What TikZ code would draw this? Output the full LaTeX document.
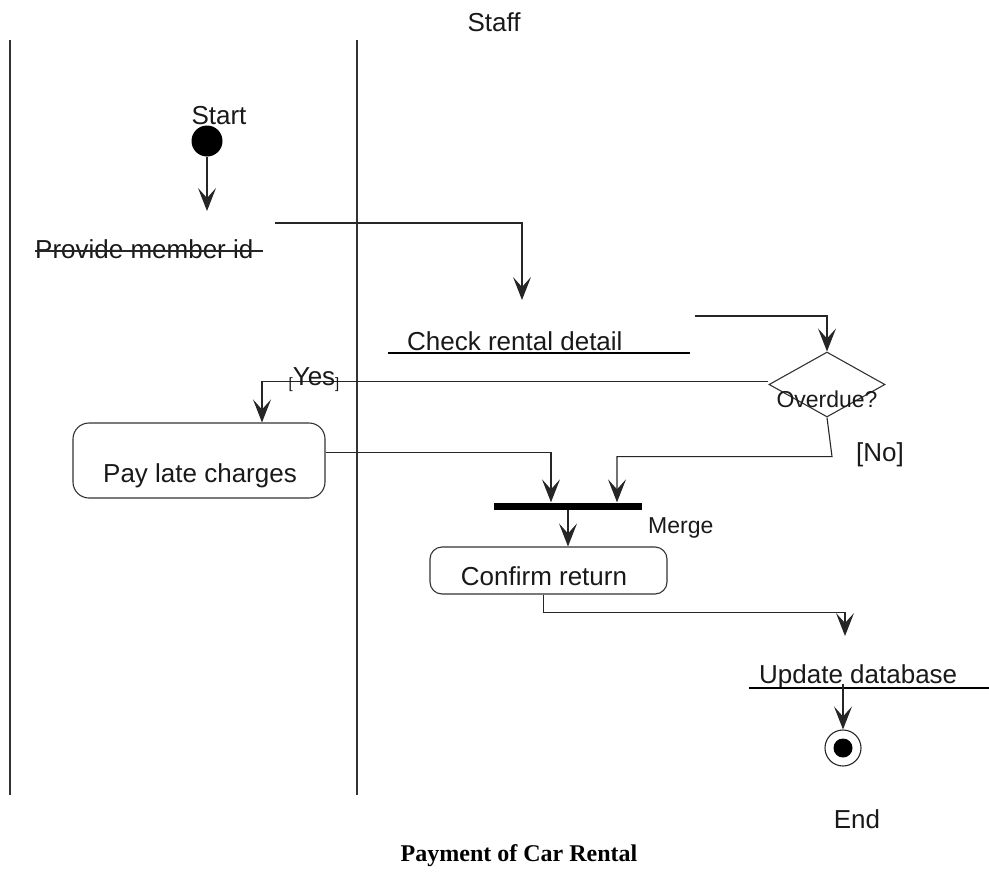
\documentclass[tikz,border=0pt]{standalone}
\usepackage{fontspec}
\setmainfont{Liberation Sans}
\newfontfamily\titlefont{Liberation Serif}
\usetikzlibrary{arrows.meta,shapes.geometric}

\begin{document}
\begin{tikzpicture}[x=1pt,y=-1pt,
  flow/.style={draw=black!85, line width=1.1pt,
    -{Stealth[length=23pt,width=18pt,inset=10pt]}},
  lbl/.style={font=\fontsize{26}{31}\selectfont, inner sep=0pt, text=black!90},
  small/.style={font=\fontsize{23}{27}\selectfont, inner sep=0pt, text=black!90},
  lane/.style={draw=black!80, line width=1.2pt},
  barline/.style={draw=black, line width=1.8pt},
  act/.style={draw=black!80, line width=1.1pt, rounded corners=16pt, inner sep=0pt},
]
\useasboundingbox (0,0) rectangle (989,873);

% swimlane header and separators
\node[lbl] (staff) at (494,22) {Staff};
\draw[lane] (10,40) -- (10,795);
\draw[lane] (357,40) -- (357,795);

% initial node
\node[circle, fill=black, minimum size=31pt, inner sep=0pt] (start) at (207,141) {};
\node[lbl, anchor=base] (startlbl) at (219,124) {Start};
\coordinate (startend) at (207,211);
\draw[flow] (start.south) -- (startend);

% activity: provide member id
\node[lbl, anchor=base west] (provide) at (35,258) {Provide member id};
\draw[draw=black!85, line width=1.2pt] (35,251) -- (263,251);

% activity: check rental detail
\coordinate (provout) at (275,223);
\coordinate (checkin) at (522,300);
\draw[flow] (provout) -| (checkin);
\node[lbl, anchor=base west] (check) at (407,350) {Check rental detail};
\draw[barline] (388,353) -- (690,353);

% decision
\node[diamond, draw=black!80, line width=1.1pt, minimum width=116pt,
      minimum height=65pt, inner sep=0pt] (dec) at (827,384.5) {};
\node[small, anchor=base] (overdue) at (827,407) {Overdue?};
\coordinate (checkout) at (695,316);
\draw[flow] (checkout) -| (dec.north);

% yes branch
\node[act, minimum width=252pt, minimum height=75pt] (pay) at (199,460.5) {};
\node[lbl, anchor=base] (paytxt) at (200,482) {Pay late charges};
\draw[flow] ([yshift=3pt]dec.west) -| ([xshift=63pt]pay.north);
\node[lbl, anchor=base] (yes) at (314,385)
  {\raisebox{-3pt}{\fontsize{15}{18}\selectfont[}Yes\raisebox{-3pt}{\fontsize{15}{18}\selectfont]}};

% merge bar
\node[rectangle, fill=black, minimum width=148pt, minimum height=7pt, inner sep=0pt] (merge) at (568,506) {};
\node[small, anchor=base west] (mergelbl) at (648,533) {Merge};
\draw[flow] ([yshift=8pt]pay.east) -| ([xshift=-17pt]merge.north);

% no branch
\draw[flow] (dec.south) -- ++(5,39) -| ([xshift=49pt]merge.north);
\node[lbl] (no) at (880,455) {[No]};

% activity: confirm return
\node[act, rounded corners=12pt, minimum width=237pt, minimum height=47pt] (confirm) at (548.5,570.5) {};
\node[lbl, anchor=base] (conftxt) at (544,585) {Confirm return};
\draw[flow] (merge.south) -- ([xshift=19.5pt]confirm.north);

% activity: update database
\coordinate (updin) at (845,636);
\draw[flow] ([xshift=-5pt]confirm.south) -- ++(0,18) -| (updin);
\node[lbl, anchor=base west] (update) at (759,683) {Update database};
\draw[barline] (749,688) -- (989,688);

% final node
\node[circle, draw=black!85, line width=1.1pt, minimum size=36pt, inner sep=0pt] (end) at (843,748) {};
\fill[black] (end.center) circle (9.5pt);
\coordinate (updout) at (843,684);
\draw[flow] (updout) -- (end.north);
\node[lbl, anchor=base] (endlbl) at (857,828) {End};

% caption
\node[inner sep=0pt, anchor=base, font={\titlefont\bfseries\fontsize{24}{28}\selectfont}] (title)
  at (519,861) {Payment of Car Rental};
\end{tikzpicture}
\end{document}
